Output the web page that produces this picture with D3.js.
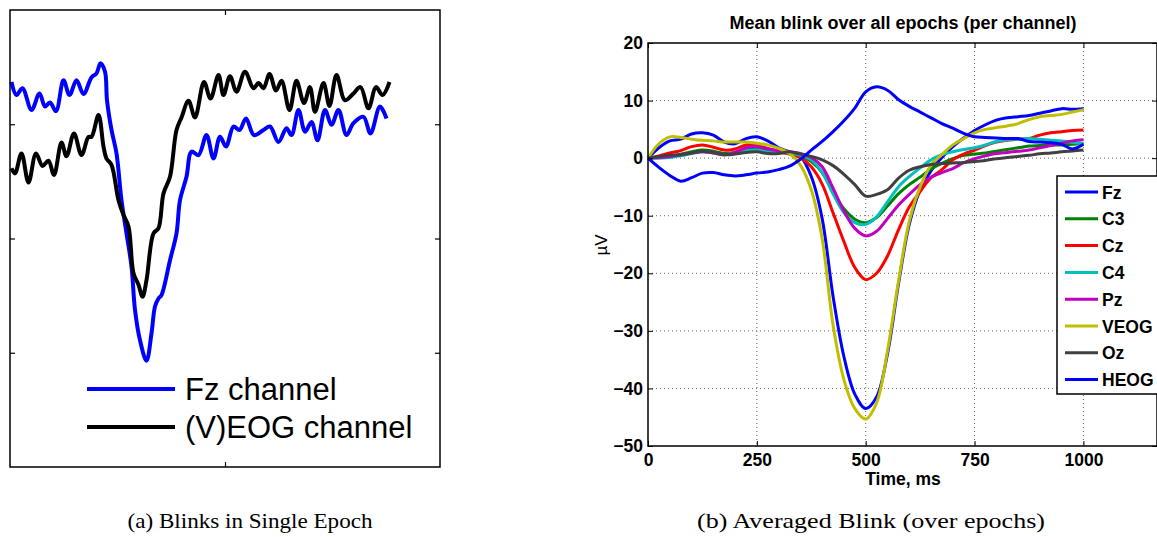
<!DOCTYPE html>
<html>
<head>
<meta charset="utf-8">
<script src="https://cdn.jsdelivr.net/npm/d3@7"></script>
<style>
  body { margin: 0; background: #fff; }
  svg { display: block; background: #fff; }
  text { font-family: "Liberation Sans", Arial, sans-serif; }
</style>
</head>
<body>
<svg id="fig" width="1157" height="537"></svg>
<script>
  'use strict';

  // (a) single epoch, [time ms, amplitude]
  var singleFz = [
    [3, 274], [13, 251], [25, 263], [43, 225], [59, 254], [70, 231], [80, 238], [92, 223],
    [107, 277], [119, 251], [133, 277], [147, 253], [163, 282], [173, 289], [181, 307], [190, 292],
    [194, 242], [203, 190], [213, 149], [223, 67], [233, 9], [243, -49], [250, -125], [260, -178],
    [273, -214], [283, -166], [290, -119], [297, -105], [303, -99], [320, -38], [333, 9], [340, 67],
    [353, 108], [363, 152], [377, 146], [393, 181], [407, 140], [420, 178], [432, 161], [447, 196],
    [459, 190], [472, 210], [488, 181], [507, 190], [520, 196], [537, 169], [553, 193], [563, 181],
    [577, 225], [590, 187], [603, 204], [615, 172], [630, 225], [643, 199], [657, 225], [673, 181],
    [687, 202], [707, 213], [721, 184], [740, 231], [753, 210]
  ];
  var singleEog = [
    [3, 123], [10, 114], [23, 149], [37, 98], [52, 149], [65, 127], [77, 136], [88, 111],
    [103, 168], [113, 144], [128, 184], [143, 146], [157, 178], [163, 178], [177, 216], [187, 161],
    [193, 140], [203, 129], [217, 67], [227, 41], [237, 21], [247, -61], [257, -81], [265, -102],
    [273, -73], [287, 9], [297, 18], [307, 79], [320, 108], [333, 190], [343, 212], [357, 241],
    [370, 212], [388, 274], [401, 245], [417, 286], [427, 251], [440, 284], [453, 257], [470, 292],
    [487, 263], [497, 272], [507, 263], [519, 288], [532, 259], [543, 276], [559, 225], [573, 276],
    [588, 237], [600, 265], [610, 222], [627, 272], [639, 232], [653, 286], [670, 242], [687, 254],
    [701, 265], [717, 228], [732, 265], [745, 251], [759, 274]
  ];
  var singleLabels = ["Fz channel", "(V)EOG channel"];

  // (b) averaged blink, µV every 25 ms
  var times = [0, 25, 50, 75, 100, 125, 150, 175, 200, 225, 250, 275, 300, 325, 350, 375, 400,
    425, 450, 475, 500, 525, 550, 575, 600, 625, 650, 675, 700, 725, 750, 775, 800, 825, 850,
    875, 900, 925, 950, 975, 1000];
  var fz = [0, 1.8, 3.0, 3.3, 4.2, 4.4, 4.0, 2.8, 2.5, 3.4, 3.7, 3.0, 1.8, 1.1, 0.3, -3.2, -10.5,
    -24, -34.5, -41, -43.5, -41.5, -34, -22, -11.5, -5.5, -2.2, 0.1, 2.0, 3.5, 4.8, 5.8, 6.6, 7.0, 7.2,
    7.4, 7.8, 8.2, 8.6, 8.5, 8.6];
  var c3 = [0, 0.2, 0.4, 0.7, 1.1, 1.4, 1.2, 0.8, 1.0, 1.5, 1.6, 1.3, 1.0, 0.8, 0.4, -0.6, -2.5,
    -5.8, -8.8, -10.6, -11.2, -10.3, -8.3, -6.2, -4.6, -3.3, -1.9, -0.9, -0.1, 0.5, 0.7, 0.9, 1.2,
    1.5, 1.8, 2.1, 2.2, 2.3, 2.3, 2.4, 2.5];
  var cz = [0, 0.4, 0.9, 1.3, 2.0, 2.3, 1.9, 1.4, 1.6, 2.3, 2.2, 1.7, 1.2, 0.7, 0.1, -1.5, -4.5,
    -9.5, -14.5, -19, -21.1, -20, -17, -12.5, -8.5, -5.8, -3.4, -2.0, -0.3, 0.7, 1.4, 2.2, 2.8, 3.1,
    3.3, 3.4, 4.0, 4.4, 4.6, 4.8, 4.9];
  var c4 = [0, 0, 0.1, 0.4, 0.8, 1.1, 0.9, 0.6, 0.9, 1.3, 1.4, 1.1, 1.0, 0.9, 0.5, -0.3, -2.5,
    -6.2, -9.5, -11.2, -11.5, -10.2, -7.6, -5.0, -3.2, -1.7, -0.3, 0.6, 1.1, 1.5, 1.8, 2.3, 2.9, 3.2,
    3.3, 3.4, 3.3, 3.1, 3.0, 2.7, 2.5];
  var pz = [0, 0.1, 0.3, 0.6, 0.9, 1.1, 0.9, 0.6, 1.0, 1.8, 2.0, 1.6, 1.3, 1.1, 0.8, 0.1, -1.5,
    -5.2, -9.2, -12.2, -13.5, -12.7, -10.5, -8.2, -6.3, -4.6, -3.3, -2.5, -1.8, -0.8, -0.1, 0.4, 0.8,
    1.0, 1.2, 1.4, 1.8, 2.2, 2.6, 3.0, 3.2];
  var veog = [0, 2.5, 3.7, 3.6, 3.3, 3.1, 3.0, 2.8, 2.8, 2.8, 2.6, 2.3, 1.7, 0.8, -1.2, -5.5, -14,
    -29, -38.5, -43.5, -45.3, -42.5, -33.5, -21.5, -11, -5, -1.2, 0.6, 2.3, 3.4, 4.4, 5.0, 5.3, 5.6,
    6.0, 6.7, 7.2, 7.4, 7.6, 8.0, 8.4];
  var oz = [0, 0.3, 0.5, 0.6, 0.9, 1.2, 1.0, 0.6, 0.7, 1.0, 1.1, 0.8, 0.8, 1.1, 0.7, 0.3, -0.3,
    -1.3, -2.8, -4.6, -6.6, -6.3, -5.5, -3.5, -2.1, -1.5, -1.1, -0.95, -0.85, -0.75, -0.6, -0.4,
    -0.1, 0.1, 0.3, 0.5, 0.75, 0.9, 1.1, 1.25, 1.4];
  var heog = [0, -1.6, -3.0, -4.0, -3.4, -2.6, -2.5, -2.9, -3.1, -2.9, -2.6, -2.4, -2.0, -1.4, -0.2,
    1.4, 2.9, 4.6, 6.5, 8.7, 11.5, 12.4, 11.8, 10.2, 9.0, 8.0, 7.0, 6.0, 5.2, 4.3, 3.7, 3.6, 3.5,
    3.4, 3.4, 2.9, 2.8, 2.7, 2.4, 1.6, 2.4];

  var channelNames = ["Fz", "C3", "Cz", "C4", "Pz", "VEOG", "Oz", "HEOG"];
  var channelValues = [fz, c3, cz, c4, pz, veog, oz, heog];
  var channelColors = ["#0000ff", "#008000", "#ff0000", "#00bfbf", "#bf00bf", "#bfbf00", "#404040", "#0000ff"];

  var xTicks = [0, 250, 500, 750, 1000];
  var yTicks = [-50, -40, -30, -20, -10, 0, 10, 20];

  var svg = d3.select("#fig");

  drawSingleEpoch();
  drawAveraged();

  // captions under both panels (LaTeX style serif)
  var serif = "'Liberation Serif', 'DejaVu Serif', serif";
  svg.append("text").attr("x", 250).attr("y", 528).attr("text-anchor", "middle")
    .attr("textLength", 245).attr("lengthAdjust", "spacingAndGlyphs")
    .style("font-family", serif).style("font-size", "22px")
    .text("(a) Blinks in Single Epoch");
  svg.append("text").attr("x", 871).attr("y", 528).attr("text-anchor", "middle")
    .attr("textLength", 348).attr("lengthAdjust", "spacingAndGlyphs")
    .style("font-family", serif).style("font-size", "22px")
    .text("(b) Averaged Blink (over epochs)");

  function drawSingleEpoch() {
    var box = { left: 10, top: 10, right: 440, bottom: 467 };
    var x = d3.scaleLinear().domain([0, 860]).range([box.left, box.right]);
    var y = d3.scaleLinear().domain([-400, 400]).range([box.bottom, box.top]);

    var g = svg.append("g");

    var line = d3.line()
      .x(function (d) { return x(d[0]); })
      .y(function (d) { return y(d[1]); })
      .curve(d3.curveCatmullRom.alpha(0.5));

    g.append("path").datum(singleFz).attr("d", line)
      .attr("fill", "none").attr("stroke", "#0000ff").attr("stroke-width", 4)
      .attr("stroke-linejoin", "round");
    g.append("path").datum(singleEog).attr("d", line)
      .attr("fill", "none").attr("stroke", "#000").attr("stroke-width", 4)
      .attr("stroke-linejoin", "round");

    // ticks only, no labels
    var noLabel = function () { return ""; };
    g.append("g").attr("transform", "translate(0," + box.bottom + ")")
      .call(d3.axisBottom(x).tickValues([430]).tickSize(-5).tickFormat(noLabel));
    g.append("g").attr("transform", "translate(0," + box.top + ")")
      .call(d3.axisTop(x).tickValues([430]).tickSize(-5).tickFormat(noLabel));
    g.append("g").attr("transform", "translate(" + box.left + ",0)")
      .call(d3.axisLeft(y).tickValues([-200, 0, 200]).tickSize(-5).tickFormat(noLabel));
    g.append("g").attr("transform", "translate(" + box.right + ",0)")
      .call(d3.axisRight(y).tickValues([-200, 0, 200]).tickSize(-5).tickFormat(noLabel));
    g.selectAll(".domain").remove();
    g.selectAll(".tick line").attr("stroke", "#000").attr("stroke-width", 1.2);

    g.append("rect").attr("x", box.left).attr("y", box.top)
      .attr("width", box.right - box.left).attr("height", box.bottom - box.top)
      .attr("fill", "none").attr("stroke", "#000").attr("stroke-width", 1.5);

    // legend
    var colors = ["#0000ff", "#000"];
    singleLabels.forEach(function (label, i) {
      var ly = 389 + i * 38;
      g.append("line").attr("x1", 87).attr("x2", 175).attr("y1", ly).attr("y2", ly)
        .attr("stroke", colors[i]).attr("stroke-width", 4);
      g.append("text").attr("x", 185).attr("y", ly + 11)
        .style("font-size", "31px").text(label);
    });
  }

  function drawAveraged() {
    var box = { left: 648, top: 43, right: 1157, bottom: 446 };
    var x = d3.scaleLinear().domain([0, 1169]).range([box.left, box.right]);
    var y = d3.scaleLinear().domain([-50, 20]).range([box.bottom, box.top]);

    var g = svg.append("g");

    // dotted grid
    g.selectAll(".vgrid").data(xTicks.slice(1)).enter().append("line")
      .attr("x1", function (d) { return x(d); }).attr("x2", function (d) { return x(d); })
      .attr("y1", box.top).attr("y2", box.bottom)
      .attr("stroke", "#666").attr("stroke-dasharray", "1,3");
    g.selectAll(".hgrid").data(yTicks.slice(1, -1)).enter().append("line")
      .attr("x1", box.left).attr("x2", box.right)
      .attr("y1", function (d) { return y(d); }).attr("y2", function (d) { return y(d); })
      .attr("stroke", "#666").attr("stroke-dasharray", "1,3");

    var line = d3.line()
      .x(function (d, i) { return x(times[i]); })
      .y(function (d) { return y(d); })
      .curve(d3.curveCatmullRom.alpha(0.5));

    channelValues.forEach(function (vals, i) {
      g.append("path").datum(vals).attr("d", line)
        .attr("fill", "none").attr("stroke", channelColors[i]).attr("stroke-width", 3)
        .attr("stroke-linejoin", "round");
    });

    // axes with inward ticks
    g.append("g").attr("transform", "translate(0," + box.bottom + ")")
      .call(d3.axisBottom(x).tickValues(xTicks).tickSize(-5).tickPadding(8).tickFormat(d3.format("d")));
    g.append("g").attr("transform", "translate(" + box.left + ",0)")
      .call(d3.axisLeft(y).tickValues(yTicks).tickSize(-5).tickPadding(5));
    g.append("g").attr("transform", "translate(0," + box.top + ")")
      .call(d3.axisTop(x).tickValues(xTicks).tickSize(-5).tickFormat(function () { return ""; }));
    g.append("g").attr("transform", "translate(" + box.right + ",0)")
      .call(d3.axisRight(y).tickValues(yTicks).tickSize(-5).tickFormat(function () { return ""; }));
    g.selectAll(".domain").remove();
    g.selectAll(".tick line").attr("stroke", "#000");
    g.selectAll(".tick text").attr("fill", "#000")
      .style("font-family", "'Liberation Sans', Arial, sans-serif")
      .style("font-size", "17.5px").style("font-weight", "bold");

    g.append("rect").attr("x", box.left).attr("y", box.top)
      .attr("width", box.right - box.left).attr("height", box.bottom - box.top)
      .attr("fill", "none").attr("stroke", "#000").attr("stroke-width", 1.5);

    g.append("text").attr("x", 903).attr("y", 29).attr("text-anchor", "middle")
      .style("font-size", "18px").style("font-weight", "bold")
      .text("Mean blink over all epochs (per channel)");
    g.append("text").attr("x", 903).attr("y", 485).attr("text-anchor", "middle")
      .style("font-size", "17.5px").style("font-weight", "bold")
      .text("Time, ms");
    g.append("text").attr("transform", "translate(607,245) rotate(-90)").attr("text-anchor", "middle")
      .style("font-size", "17px")
      .text("µV");

    // legend box
    var lg = g.append("g");
    lg.append("rect").attr("x", 1057).attr("y", 176).attr("width", 110).attr("height", 218)
      .attr("fill", "#fff").attr("stroke", "#000").attr("stroke-width", 1.5);
    channelNames.forEach(function (name, i) {
      var ly = 192 + i * 26.8;
      lg.append("line").attr("x1", 1065).attr("x2", 1098).attr("y1", ly).attr("y2", ly)
        .attr("stroke", channelColors[i]).attr("stroke-width", 3);
      lg.append("text").attr("x", 1102).attr("y", ly + 6.5)
        .style("font-size", "17.5px").style("font-weight", "bold").text(name);
    });
  }
</script>
</body>
</html>
